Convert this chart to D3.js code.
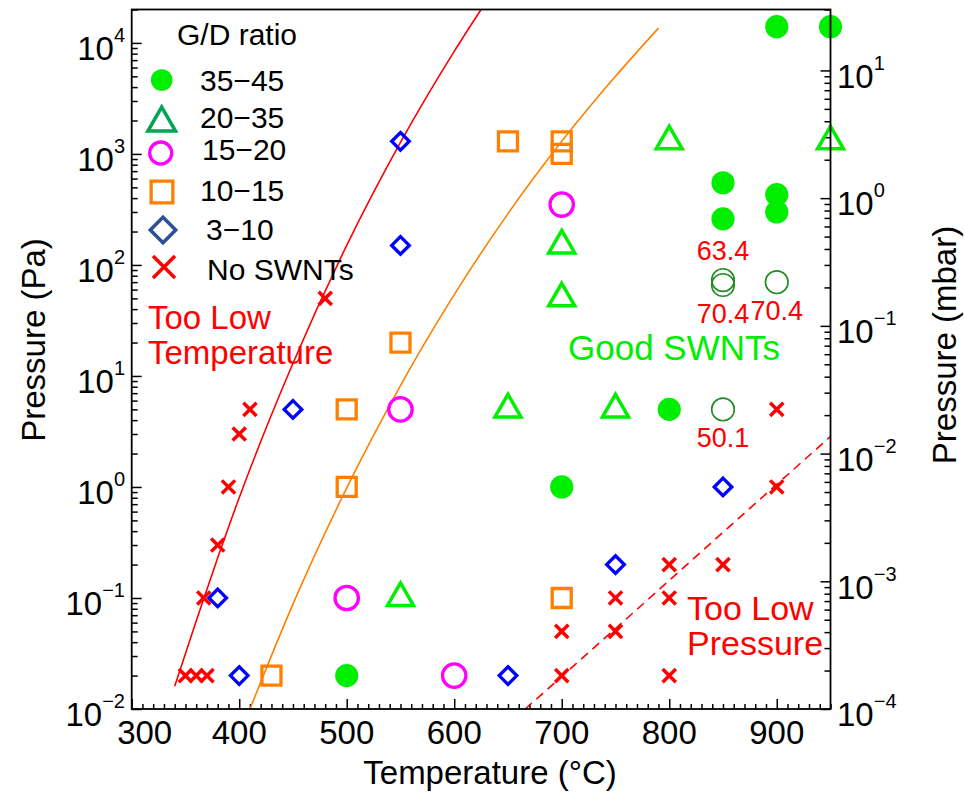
<!DOCTYPE html>
<html>
<head>
<meta charset="utf-8">
<script src="https://cdn.jsdelivr.net/npm/d3@7"></script>
<style>
  html, body { margin: 0; padding: 0; background: #fff; }
  svg { display: block; font-family: "Liberation Sans", Arial, Helvetica, sans-serif; }
</style>
</head>
<body>
<svg id="chart" width="964" height="796"></svg>
<script>
// ---- axis ticks ----
const temperatureTicks = [300, 400, 500, 600, 700, 800, 900];
const pressurePaTicks = [1e-2, 1e-1, 1e0, 1e1, 1e2, 1e3, 1e4];
const pressurePaExp = ["\u22122", "\u22121", "0", "1", "2", "3", "4"];
const pressureMbarTicks = [1e-4, 1e-3, 1e-2, 1e-1, 1e0, 1e1];
const pressureMbarExp = ["\u22124", "\u22123", "\u22122", "\u22121", "0", "1"];

// ---- growth conditions: [temperature °C, pressure Pa] grouped by G/D ratio ----
const gd35to45 = [[900, 14000], [950, 14000], [850, 550], [850, 260], [900, 430], [900, 300],
                  [800, 5], [700, 1], [500, 0.02]];
const gd20to35 = [[800, 1300], [950, 1300], [700, 150], [700, 50], [650, 5], [750, 5], [550, 0.1]];
const gd15to20 = [[700, 350], [550, 5], [500, 0.1], [600, 0.02]];
const gd10to15 = [[650, 1300], [700, 1300], [700, 1000], [550, 20], [500, 5], [500, 1],
                  [700, 0.1], [430, 0.02]];
const gd3to10  = [[550, 1300], [550, 150], [450, 5], [380, 0.1], [400, 0.02], [650, 0.02],
                  [750, 0.2], [850, 1]];
const noSWNTs  = [[480, 50], [410, 5], [400, 3], [390, 1], [380, 0.3], [367, 0.1],
                  [350, 0.02], [360, 0.02], [370, 0.02],
                  [700, 0.05], [700, 0.02], [750, 0.1], [750, 0.05],
                  [800, 0.2], [800, 0.1], [800, 0.02], [850, 0.2], [900, 5], [900, 1]];

// high-ratio samples shown with their measured G/D value
const labelledTemps = [850, 850, 900, 850];
const labelledPress = [73, 66, 70, 5];
const labelledRatio = ["63.4", "70.4", "70.4", "50.1"];
const labelledSide  = ["above", "below", "below", "below"];

// ---- regime boundaries: [temperature °C, pressure Pa] ----
const boundaryLowTemp = [[340, 0.016], [360, 0.062], [380, 0.23], [400, 0.8], [450, 13],
                         [500, 150], [550, 1270], [600, 8400], [625, 20000]];
const boundaryOrange  = [[410, 0.01], [450, 0.088], [500, 0.98], [550, 8.2], [600, 54],
                         [650, 290], [700, 1300], [750, 5000], [790, 13600]];
const boundaryLowPres = [[666, 0.01], [750, 0.053], [850, 0.39], [950, 2.85]];

const legendLabels = ["35\u221245", "20\u221235", "15\u221220", "10\u221215", "3\u221210", "No SWNTs"];

// ---- layout ----
const P = { left: 131.7, right: 830.5, top: 9.5, bottom: 709 };
const svg = d3.select("#chart");

const x = d3.scaleLinear().domain([300, 950]).range([P.left, P.right]);
const yPa = d3.scaleLog().domain([1e-2, 2e4]).range([P.bottom, P.top]);
const yMbar = d3.scaleLog().domain([1e-4, 30]).range([P.bottom, P.top]);

const C = {
  green: "#00ee00", legendTri: "#00a651", magenta: "#ff00ff", orange: "#ff8000",
  blue: "#0000ff", legendDia: "#2c4f97", red: "#ff0000", dark: "#218c21"
};

// ---- axes (ticks point into the plot) ----
function styleAxis(g) {
  g.select(".domain").remove();
  g.selectAll(".tick line").attr("stroke", "#000").attr("stroke-width", 1.5);
}
const xMinor = d3.range(300, 951, 10).filter(v => v % 100 !== 0);
svg.append("g").attr("transform", `translate(0,${P.bottom})`)
  .call(d3.axisBottom(x).tickValues(xMinor).tickSize(-5).tickSizeOuter(0).tickFormat(""))
  .call(styleAxis);
svg.append("g").attr("transform", `translate(0,${P.bottom})`)
  .call(d3.axisBottom(x).tickValues(temperatureTicks).tickSize(-10).tickSizeOuter(0).tickFormat(""))
  .call(styleAxis);

const paMinor = yPa.ticks().filter(v => !pressurePaTicks.some(t => Math.abs(t - v) / t < 1e-6));
svg.append("g").attr("transform", `translate(${P.left},0)`)
  .call(d3.axisLeft(yPa).tickValues(paMinor).tickSize(-6).tickSizeOuter(0).tickFormat(""))
  .call(styleAxis);
svg.append("g").attr("transform", `translate(${P.left},0)`)
  .call(d3.axisLeft(yPa).tickValues(pressurePaTicks).tickSize(-10).tickSizeOuter(0).tickFormat(""))
  .call(styleAxis);

const mbarMinor = yMbar.ticks().filter(v => !pressureMbarTicks.some(t => Math.abs(t - v) / t < 1e-6));
svg.append("g").attr("transform", `translate(${P.right},0)`)
  .call(d3.axisRight(yMbar).tickValues(mbarMinor).tickSize(-6).tickSizeOuter(0).tickFormat(""))
  .call(styleAxis);
svg.append("g").attr("transform", `translate(${P.right},0)`)
  .call(d3.axisRight(yMbar).tickValues(pressureMbarTicks).tickSize(-10).tickSizeOuter(0).tickFormat(""))
  .call(styleAxis);

// tick labels
const tickFont = 33, supFont = 20;
svg.append("g").selectAll("text").data(temperatureTicks).join("text")
  .attr("x", d => x(d) + (d === 300 ? 13 : 0))
  .attr("y", 744)
  .attr("text-anchor", "middle")
  .attr("font-size", tickFont)
  .text(d => d);

function powerLabel(sel, exps) {
  sel.append("tspan").text("10");
  sel.append("tspan").attr("dy", -18).attr("font-size", supFont).text((d, i) => exps[i]);
}
svg.append("g").selectAll("text").data(pressurePaTicks).join("text")
  .attr("x", 125).attr("y", d => yPa(d) + 17.3)
  .attr("text-anchor", "end").attr("font-size", tickFont)
  .call(powerLabel, pressurePaExp);
svg.append("g").selectAll("text").data(pressureMbarTicks).join("text")
  .attr("x", 837).attr("y", d => yMbar(d) + 17.3)
  .attr("text-anchor", "start").attr("font-size", tickFont)
  .call(powerLabel, pressureMbarExp);

// axis titles
svg.append("text").attr("x", 490).attr("y", 784).attr("text-anchor", "middle")
  .attr("font-size", 33).text("Temperature (\u00B0C)");
svg.append("text").attr("transform", "translate(45,340) rotate(-90)").attr("text-anchor", "middle")
  .attr("font-size", 33).text("Pressure (Pa)");
svg.append("text").attr("transform", "translate(956,345) rotate(-90)").attr("text-anchor", "middle")
  .attr("font-size", 33).text("Pressure (mbar)");

// ---- boundary curves ----
svg.append("clipPath").attr("id", "plotClip").append("rect")
  .attr("x", P.left).attr("y", P.top).attr("width", P.right - P.left).attr("height", P.bottom - P.top);
const curve = d3.line().x(d => x(d[0])).y(d => yPa(d[1])).curve(d3.curveMonotoneX);
const lines = svg.append("g").attr("clip-path", "url(#plotClip)").attr("fill", "none");
lines.append("path").attr("d", curve(boundaryLowTemp)).attr("stroke", C.red).attr("stroke-width", 1.6);
lines.append("path").attr("d", curve(boundaryOrange)).attr("stroke", C.orange).attr("stroke-width", 1.6);
lines.append("path").attr("d", curve(boundaryLowPres)).attr("stroke", C.red).attr("stroke-width", 1.6)
  .attr("stroke-dasharray", "9,6");

// ---- marker shapes ----
const tri = (cx, cy, s) => {
  const h = s * Math.sqrt(3) / 2;
  return `M${cx},${cy - 2 * h / 3}L${cx + s / 2},${cy + h / 3}L${cx - s / 2},${cy + h / 3}Z`;
};
const dia = (cx, cy, h) => `M${cx},${cy - h}L${cx + h},${cy}L${cx},${cy + h}L${cx - h},${cy}Z`;
const sq = (cx, cy, s) => `M${cx - s / 2},${cy - s / 2}h${s}v${s}h${-s}Z`;
const crs = (cx, cy, a) => `M${cx - a},${cy - a}L${cx + a},${cy + a}M${cx - a},${cy + a}L${cx + a},${cy - a}`;

const marks = svg.append("g");
const px = d => x(d[0]), py = d => yPa(d[1]);

marks.append("g").selectAll("path").data(noSWNTs).join("path")
  .attr("d", d => crs(px(d), py(d), 6.6))
  .attr("stroke", C.red).attr("stroke-width", 3.5).attr("fill", "none");
marks.append("g").selectAll("path").data(gd3to10).join("path")
  .attr("d", d => dia(px(d), py(d), 8.8))
  .attr("stroke", C.blue).attr("stroke-width", 3.3).attr("fill", "none");
marks.append("g").selectAll("path").data(gd10to15).join("path")
  .attr("d", d => sq(px(d), py(d), 19))
  .attr("stroke", C.orange).attr("stroke-width", 3.3).attr("fill", "none");
marks.append("g").selectAll("circle").data(gd15to20).join("circle")
  .attr("cx", px).attr("cy", py).attr("r", 11.7)
  .attr("stroke", C.magenta).attr("stroke-width", 3.3).attr("fill", "none");
marks.append("g").selectAll("path").data(gd20to35).join("path")
  .attr("d", d => tri(px(d), py(d), 26))
  .attr("stroke", C.green).attr("stroke-width", 3.5).attr("fill", "none");
marks.append("g").selectAll("circle").data(gd35to45).join("circle")
  .attr("cx", px).attr("cy", py).attr("r", 11.6).attr("fill", C.green);

// labelled high-ratio samples
const lab = labelledTemps.map((t, i) => ({ t, p: labelledPress[i], r: labelledRatio[i], side: labelledSide[i] }));
marks.append("g").selectAll("circle").data(lab).join("circle")
  .attr("cx", d => x(d.t)).attr("cy", d => yPa(d.p)).attr("r", 11.3)
  .attr("stroke", C.dark).attr("stroke-width", 1.6).attr("fill", "none");
marks.append("g").selectAll("text").data(lab).join("text")
  .attr("x", d => x(d.t))
  .attr("y", d => yPa(d.p) + (d.side === "above" ? -20 : 38))
  .attr("text-anchor", "middle").attr("font-size", 27).attr("fill", C.red)
  .text(d => d.r);

// ---- region annotations ----
const note = (rows, xPos, ys, color, size) => {
  rows.forEach((s, i) => svg.append("text").attr("x", xPos).attr("y", ys[i])
    .attr("font-size", size).attr("fill", color).text(s));
};
note(["Too Low", "Temperature"], 148, [329, 364], C.red, 33);
note(["Good SWNTs"], 568, [360], C.green, 35);
note(["Too Low", "Pressure"], 687, [620, 655], C.red, 34);

// ---- legend ----
const lg = svg.append("g");
lg.append("text").attr("x", 177).attr("y", 45).attr("font-size", 30).text("G/D ratio");
const rowText = [[200, 90.7], [200, 128], [202, 160], [200, 201], [206, 240], [207, 280]];
lg.selectAll("text.item").data(legendLabels).join("text").attr("class", "item")
  .attr("x", (d, i) => rowText[i][0]).attr("y", (d, i) => rowText[i][1])
  .attr("font-size", 30).text(d => d);
lg.append("circle").attr("cx", 161.7).attr("cy", 80).attr("r", 10.8).attr("fill", C.green);
lg.append("path").attr("d", tri(161.7, 123, 27.5)).attr("fill", "none")
  .attr("stroke", C.legendTri).attr("stroke-width", 3.6);
lg.append("circle").attr("cx", 160.7).attr("cy", 153).attr("r", 11)
  .attr("fill", "none").attr("stroke", C.magenta).attr("stroke-width", 3.3);
lg.append("path").attr("d", sq(162, 192, 21.7)).attr("fill", "none")
  .attr("stroke", C.orange).attr("stroke-width", 3.3);
lg.append("path").attr("d", dia(163, 230, 12.7)).attr("fill", "none")
  .attr("stroke", C.legendDia).attr("stroke-width", 3.5);
lg.append("path").attr("d", crs(164, 267, 11)).attr("fill", "none")
  .attr("stroke", C.red).attr("stroke-width", 3.5);

// ---- frame ----
svg.append("rect").attr("x", P.left).attr("y", P.top)
  .attr("width", P.right - P.left).attr("height", P.bottom - P.top)
  .attr("fill", "none").attr("stroke", "#000").attr("stroke-width", 1.8);
</script>
</body>
</html>
